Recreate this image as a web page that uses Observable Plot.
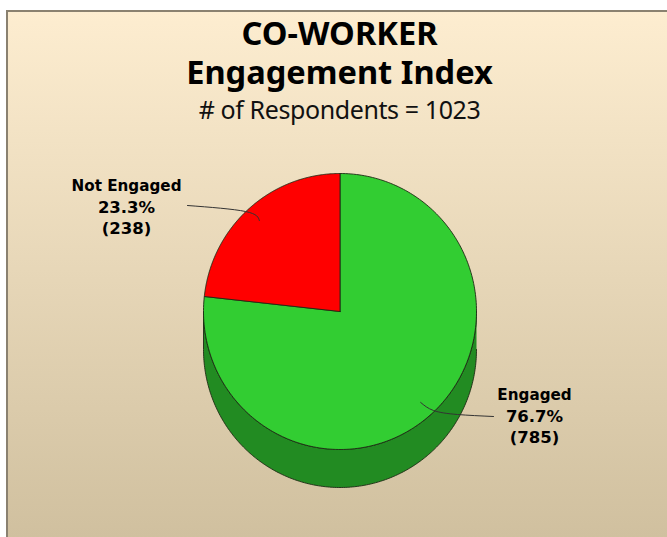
<!DOCTYPE html>
<html>
<head>
<meta charset="utf-8">
<script src="https://cdn.jsdelivr.net/npm/d3@7"></script>
<script src="https://cdn.jsdelivr.net/npm/@observablehq/plot@0.6"></script>
<style>
  html, body { margin: 0; padding: 0; background: #fff; }
  #panel { position: absolute; left: 6px; top: 10px; width: 661px; height: 527px; box-sizing: border-box;
    border-left: 2px solid #8a8170; border-top: 2px solid #8a8170;
    background: linear-gradient(to bottom, #fdedd0, #d0c09f); overflow: hidden; }
  .t { position: absolute; left: -2px; width: 667px; text-align: center; color: #000; }
  .main { font: bold 32.6px/39px "Noto Sans", sans-serif; white-space: pre-line; }
  .sub { font: 25px/30px "Noto Sans", sans-serif; letter-spacing: -0.4px; color: #111; white-space: nowrap; }
  #chart { position: absolute; left: 0; top: 130px; }
  #chart svg { display: block; background: transparent; }
</style>
</head>
<body>
<div id="panel">
  <div class="t main" id="title" style="top:1px"></div>
  <div class="t sub" id="subtitle" style="top:82px"></div>
</div>
<div id="chart"></div>
<script>
const titleLines = ["CO-WORKER", "Engagement Index"];
const respondents = 1023;
const categories = ["Engaged", "Not Engaged"];
const counts = [785, 238];
const percents = ["76.7%", "23.3%"];
const colors = ["#32cd32", "#ff0000"];
const wallColor = "#228b22";

document.getElementById("title").textContent = titleLines.join("\n");
document.getElementById("subtitle").textContent = `# of Respondents = ${respondents}`;

// Pie geometry, in page pixels; the plot's scales below map them into the SVG
const cx = 339.5, cy = 311, rx = 136.5, ry = 138, depth = 38;
const total = d3.sum(counts);
const pt = (deg, k = 1, dy = 0) => {
  const a = deg * Math.PI / 180;
  return {x: cx + k * rx * Math.sin(a), y: cy + dy - k * ry * Math.cos(a)};
};
const sweep = (a0, a1, dy = 0) => d3.range(0, 241).map(i => pt(a0 + (a1 - a0) * i / 240, 1, dy));

let acc = 0;
const slices = counts.map((c, i) => {
  const a0 = acc / total * 360; acc += c; const a1 = acc / total * 360;
  const c0 = {x: cx, y: cy};
  return {pts: [c0, ...sweep(a0, a1), c0], fill: colors[i], mid: (a0 + a1) / 2};
});
const wall = [...sweep(90, 270, depth), ...sweep(270, 90)];

// Leader lines run from inside each slice, at its mid angle, out towards the label
const leaderBends = [[{x: 433, y: 410}, {x: 457, y: 414}, {x: 493, y: 416}],
                     [{x: 245, y: 211}, {x: 187, y: 205}]];
const labelAnchors = [{x: 534, y: 416}, {x: 126, y: 207}];
const lineGap = 21.5;
const leaders = slices.map((s, i) => [pt(s.mid, 0.885), ...leaderBends[i]]);
const nameLabels = categories.map((c, i) => ({x: labelAnchors[i].x, y: labelAnchors[i].y - lineGap, text: c}));
const numberLabels = categories.flatMap((c, i) => [
  {x: labelAnchors[i].x, y: labelAnchors[i].y, text: percents[i]},
  {x: labelAnchors[i].x, y: labelAnchors[i].y + lineGap, text: `(${counts[i]})`}
]);

const outline = {x: "x", y: "y", stroke: "#1d2a14", strokeWidth: 0.9};
const labelStyle = {x: "x", y: "y", text: "text", fontFamily: "DejaVu Sans", fontWeight: "bold", fill: "#000"};
const plot = Plot.plot({
  width: 667, height: 407, margin: 0,
  x: {domain: [0, 667], range: [0, 667], axis: null},
  y: {domain: [130, 537], range: [0, 407], axis: null},
  marks: [
    Plot.line(wall, {...outline, fill: wallColor}),
    ...slices.map(s => Plot.line(s.pts, {...outline, fill: s.fill})),
    ...leaders.map(l => Plot.line(l, {x: "x", y: "y", stroke: "#333", strokeWidth: 1, curve: "natural"})),
    Plot.text(nameLabels, {...labelStyle, fontSize: 15.2}),
    Plot.text(numberLabels, {...labelStyle, fontSize: 16.5})
  ]
});
document.getElementById("chart").append(plot);
</script>
</body>
</html>
